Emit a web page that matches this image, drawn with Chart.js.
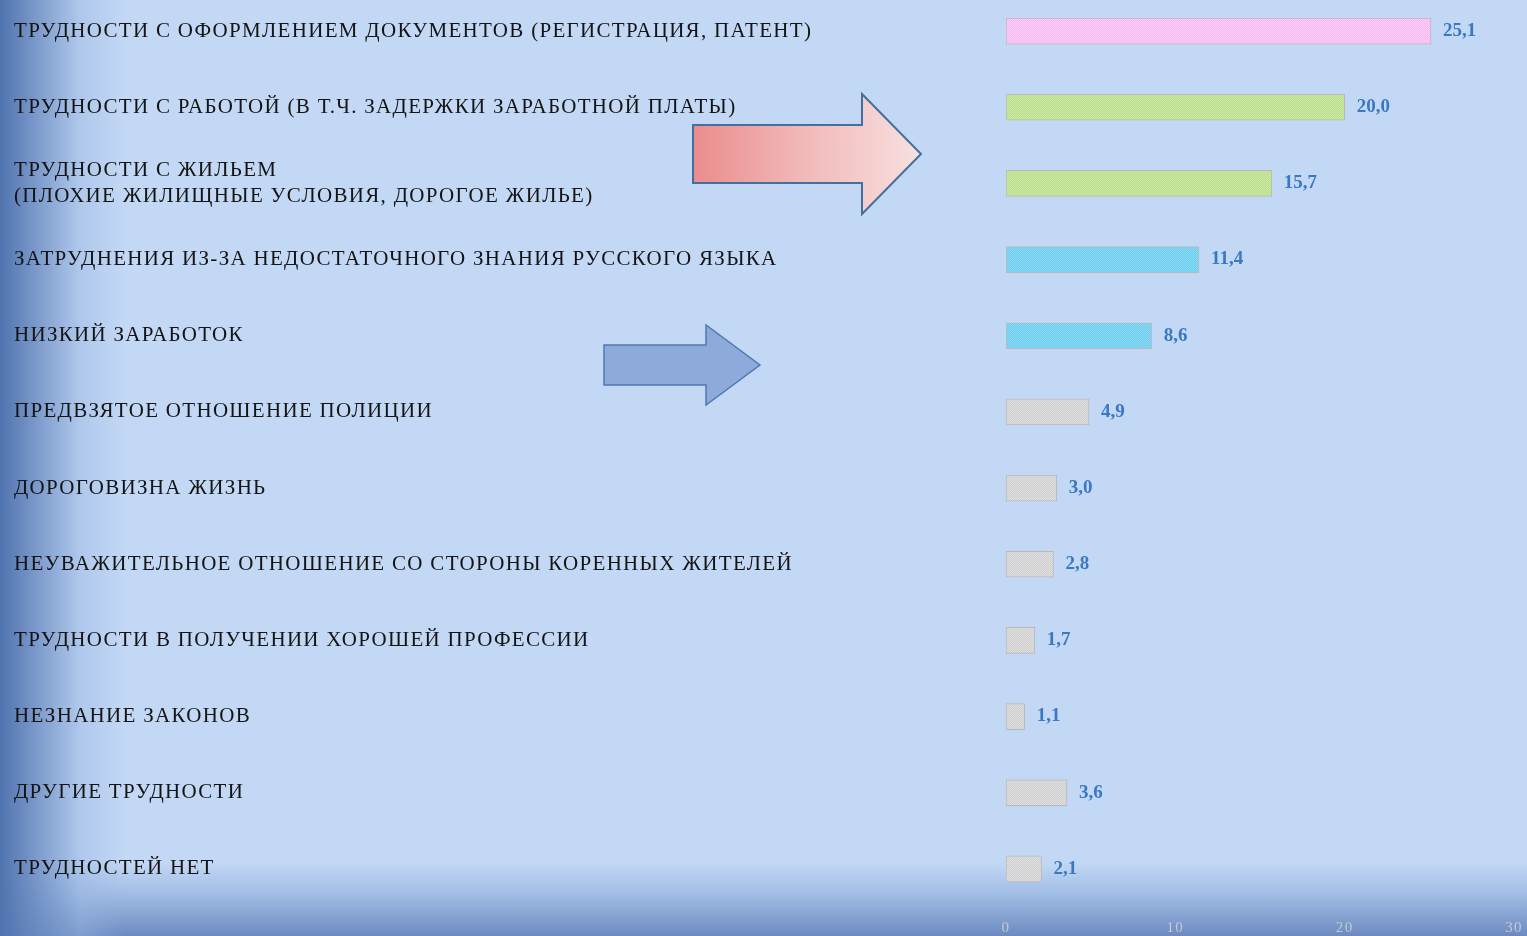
<!DOCTYPE html>
<html>
<head>
<meta charset="utf-8">
<script src="https://cdn.jsdelivr.net/npm/chart.js@4/dist/chart.umd.min.js"></script>
<style>
  html, body { margin: 0; padding: 0; width: 1527px; height: 936px; overflow: hidden; }
  body {
    background:
      linear-gradient(to right, rgba(80,115,175,1) 0px, rgba(95,128,185,0.85) 25px, rgba(150,180,225,0.45) 80px, rgba(197,218,246,0) 125px),
      linear-gradient(to bottom, rgba(197,218,246,0) 0px, rgba(197,218,246,0) 862px, rgba(160,188,228,1) 895px, rgba(108,138,192,1) 936px),
      #c3d8f5;
  }
  #wrap { position: absolute; left: 0; top: -7px; width: 1527px; height: 943px; }
</style>
</head>
<body>
<div id="wrap"><canvas id="c"></canvas></div>
<script>
const categories = [
  "ТРУДНОСТИ С ОФОРМЛЕНИЕМ ДОКУМЕНТОВ (РЕГИСТРАЦИЯ, ПАТЕНТ)",
  "ТРУДНОСТИ С РАБОТОЙ (В Т.Ч. ЗАДЕРЖКИ ЗАРАБОТНОЙ ПЛАТЫ)",
  ["ТРУДНОСТИ С ЖИЛЬЕМ", "(ПЛОХИЕ ЖИЛИЩНЫЕ УСЛОВИЯ, ДОРОГОЕ ЖИЛЬЕ)"],
  "ЗАТРУДНЕНИЯ ИЗ-ЗА НЕДОСТАТОЧНОГО ЗНАНИЯ РУССКОГО ЯЗЫКА",
  "НИЗКИЙ ЗАРАБОТОК",
  "ПРЕДВЗЯТОЕ ОТНОШЕНИЕ ПОЛИЦИИ",
  "ДОРОГОВИЗНА ЖИЗНЬ",
  "НЕУВАЖИТЕЛЬНОЕ ОТНОШЕНИЕ СО СТОРОНЫ КОРЕННЫХ ЖИТЕЛЕЙ",
  "ТРУДНОСТИ В ПОЛУЧЕНИИ ХОРОШЕЙ ПРОФЕССИИ",
  "НЕЗНАНИЕ ЗАКОНОВ",
  "ДРУГИЕ ТРУДНОСТИ",
  "ТРУДНОСТЕЙ НЕТ"
];
const values = [25.1, 20.0, 15.7, 11.4, 8.6, 4.9, 3.0, 2.8, 1.7, 1.1, 3.6, 2.1];
const colorGroups = ["pink", "green", "green", "cyan", "cyan", "gray", "gray", "gray", "gray", "gray", "gray", "gray"];
const xTicks = [0, 10, 20, 30];

const palette = {
  pink:  ["#ffcbf9", "#f6baf0"],
  green: ["#cce9a2", "#bcdc90"],
  cyan:  ["#88dbf6", "#70cbec"],
  gray:  ["#e0e0e0", "#cecece"]
};
function makePattern(c) {
  const p = document.createElement('canvas');
  p.width = 2; p.height = 2;
  const g = p.getContext('2d');
  g.fillStyle = c[0]; g.fillRect(0, 0, 2, 2);
  g.fillStyle = c[1]; g.fillRect(0, 0, 1, 1); g.fillRect(1, 1, 1, 1);
  return g.createPattern(p, 'repeat');
}
const ctx0 = document.getElementById('c').getContext('2d');
const fills = colorGroups.map(k => makePattern(palette[k]));

const spacing = {
  id: 'spacing',
  beforeDraw(chart) { chart.ctx.letterSpacing = '1.3px'; },
  beforeDatasetsDraw(chart) { chart.ctx.letterSpacing = '0px'; }
};

const valueLabels = {
  id: 'valueLabels',
  afterDatasetsDraw(chart) {
    const ctx = chart.ctx;
    const meta = chart.getDatasetMeta(0);
    ctx.save();
    ctx.font = 'bold 19px "Liberation Serif", serif';
    ctx.fillStyle = '#3a78c2';
    ctx.textAlign = 'left';
    ctx.textBaseline = 'middle';
    meta.data.forEach((bar, i) => {
      ctx.fillText(values[i].toFixed(1).replace('.', ','), bar.x + 12, bar.y);
    });
    ctx.restore();
  }
};

const arrows = {
  id: 'arrows',
  afterDraw(chart) {
    const ctx = chart.ctx;
    const dy = 7; // canvas is shifted up by 7px
    ctx.save();
    ctx.beginPath();
    ctx.moveTo(693, 125 + dy);
    ctx.lineTo(862, 125 + dy);
    ctx.lineTo(862, 94 + dy);
    ctx.lineTo(921, 154 + dy);
    ctx.lineTo(862, 214 + dy);
    ctx.lineTo(862, 183 + dy);
    ctx.lineTo(693, 183 + dy);
    ctx.closePath();
    const g = ctx.createLinearGradient(693, 0, 921, 0);
    g.addColorStop(0, '#ea8c8c');
    g.addColorStop(0.5, '#f2baba');
    g.addColorStop(1, '#f8e0e0');
    ctx.fillStyle = g;
    ctx.fill();
    ctx.lineWidth = 2;
    ctx.strokeStyle = '#41719c';
    ctx.stroke();
    ctx.beginPath();
    ctx.moveTo(604, 345 + dy);
    ctx.lineTo(706, 345 + dy);
    ctx.lineTo(706, 325 + dy);
    ctx.lineTo(760, 365 + dy);
    ctx.lineTo(706, 405 + dy);
    ctx.lineTo(706, 385 + dy);
    ctx.lineTo(604, 385 + dy);
    ctx.closePath();
    ctx.fillStyle = '#8eaadb';
    ctx.fill();
    ctx.lineWidth = 1.5;
    ctx.strokeStyle = '#5078b4';
    ctx.stroke();
    ctx.restore();
  }
};

new Chart(ctx0, {
  type: 'bar',
  data: {
    labels: categories,
    datasets: [{
      data: values,
      backgroundColor: fills,
      borderColor: '#b9b9b9',
      borderWidth: 1,
      borderSkipped: false,
      barThickness: 26
    }]
  },
  options: {
    indexAxis: 'y',
    responsive: true,
    maintainAspectRatio: false,
    animation: false,
    events: [],
    layout: { padding: { left: 14, right: 13, top: 0, bottom: 0 } },
    plugins: { legend: { display: false }, tooltip: { enabled: false } },
    scales: {
      y: {
        grid: { display: false },
        border: { display: false },
        afterFit(scale) { scale.width = 992; scale.paddingTop = 0; scale.paddingBottom = 0; },
        ticks: {
          crossAlign: 'far',
          color: '#141414',
          font: { family: '"Liberation Serif", serif', size: 21 },
          padding: 0,
          autoSkip: false
        }
      },
      x: {
        min: 0, max: 30,
        grid: { display: false },
        border: { display: false },
        afterFit(scale) { scale.height = 29; scale.paddingLeft = 0; scale.paddingRight = 0; },
        afterBuildTicks(scale) { scale.ticks = xTicks.map(v => ({ value: v })); },
        ticks: {
          color: '#c4cad6',
          font: { family: '"Liberation Serif", serif', size: 15 },
          padding: 4,
          maxRotation: 0
        }
      }
    }
  },
  plugins: [spacing, valueLabels, arrows]
});
</script>
</body>
</html>
